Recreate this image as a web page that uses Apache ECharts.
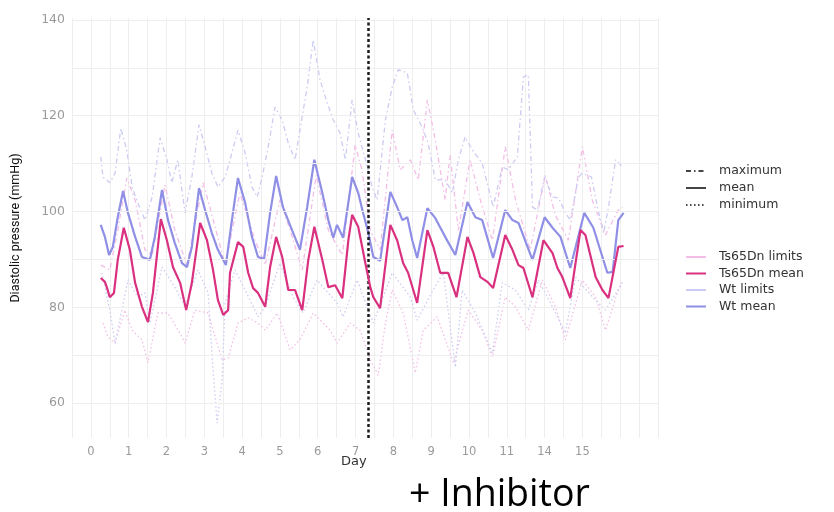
<!DOCTYPE html>
<html>
<head>
<meta charset="utf-8">
<script src="https://cdn.jsdelivr.net/npm/echarts@6/dist/echarts.min.js"></script>
<style>html,body{margin:0;padding:0;background:#fff;}#c{width:834px;height:512px;}</style>
</head>
<body>
<div id="c"></div>
<script>
// ---- tick labels ----
const xTickPositions = [0,1,2,3,4,5,6,7,8,9,10,11,12,13];
const xTickLabels = ['0','1','2','3','4','5','6','7','8','9','10','11','14','15'];
const yTickValues = [60,80,100,120,140];
const yGridValues = [60,70,80,90,100,110,120,130,140];
const inhibitorDay = 7.33;

// ---- Wt mean ----
const wtMeanX = [0.26,0.37,0.48,0.58,0.71,0.85,0.98,1.17,1.35,1.56,1.69,1.88,2.04,2.22,2.41,2.54,2.67,2.86,3.02,3.20,3.36,3.57,3.73,3.89,4.08,4.26,4.42,4.58,4.74,4.90,5.08,5.32,5.53,5.72,5.91,6.12,6.28,6.41,6.51,6.67,6.91,7.07,7.20,7.34,7.47,7.65,7.92,8.10,8.24,8.37,8.50,8.63,8.90,9.11,9.37,9.64,9.96,10.17,10.35,10.64,10.96,11.15,11.31,11.68,12.00,12.21,12.42,12.68,13.05,13.29,13.66,13.80,13.95,14.09];
const wtMeanY = [97.2,94.7,90.9,92.6,98.8,104.3,99.7,94.7,90.5,89.9,94.7,104.5,98.2,93.4,89.2,88.4,92.6,104.9,100.3,95.5,92.0,88.8,98.2,107.0,101.8,94.7,90.5,90.1,99.7,107.4,100.9,96.1,92.0,100.9,110.8,103.9,98.2,94.5,97.2,94.5,107.2,103.9,99.7,95.5,90.5,89.7,104.1,100.9,98.2,98.8,94.0,90.3,100.7,98.6,94.7,90.9,102.0,98.8,98.2,90.3,100.3,98.2,97.6,89.9,98.8,96.6,94.7,88.2,99.7,96.6,87.2,87.4,98.2,99.7];

// ---- Ts65Dn mean ----
const tsMeanX = [0.26,0.37,0.42,0.50,0.61,0.71,0.87,1.03,1.17,1.35,1.51,1.64,1.85,2.01,2.17,2.36,2.52,2.67,2.89,3.07,3.23,3.36,3.50,3.63,3.68,3.89,4.03,4.16,4.29,4.42,4.61,4.74,4.90,5.06,5.22,5.40,5.59,5.75,5.91,6.12,6.28,6.46,6.65,6.81,6.91,7.07,7.26,7.39,7.47,7.65,7.92,8.10,8.26,8.39,8.63,8.90,9.06,9.24,9.45,9.67,9.96,10.12,10.30,10.49,10.64,10.96,11.15,11.31,11.44,11.68,11.97,12.21,12.34,12.47,12.68,12.95,13.08,13.35,13.53,13.69,13.95,14.09];
const tsMeanY = [86.1,85.3,84.2,82.1,83.0,89.9,96.6,92.0,85.1,80.1,76.9,83.0,98.4,94.0,88.4,85.1,79.4,85.1,97.6,94.0,87.8,81.5,78.4,79.4,87.2,93.6,92.6,87.2,84.0,83.0,80.1,88.4,94.7,90.5,83.6,83.6,79.4,89.9,96.8,89.9,84.2,84.6,81.9,94.0,99.3,96.8,89.2,84.2,82.1,79.8,97.2,94.0,89.2,87.2,80.9,96.1,92.6,87.2,87.2,82.1,94.7,91.3,86.3,85.3,84.0,95.1,92.0,88.8,88.2,82.1,94.0,91.3,88.2,86.3,81.9,96.1,95.1,86.3,83.6,81.9,92.6,92.8];

// ---- Wt maximum ----
const wtMaxX = [0.26,0.32,0.50,0.64,0.79,0.95,1.09,1.24,1.43,1.62,1.83,2.01,2.14,2.30,2.49,2.67,2.86,3.02,3.20,3.36,3.55,3.73,3.89,4.08,4.26,4.40,4.53,4.69,4.87,5.06,5.22,5.40,5.53,5.72,5.88,6.06,6.25,6.41,6.59,6.73,6.91,7.07,7.26,7.44,7.57,7.79,7.97,8.13,8.37,8.53,8.76,8.92,9.11,9.37,9.56,9.72,9.90,10.09,10.35,10.64,10.88,11.04,11.28,11.44,11.57,11.68,11.81,12.00,12.21,12.37,12.55,12.68,12.90,13.00,13.24,13.40,13.56,13.69,13.88,14.06];
const wtMaxY = [111.4,107.2,106.0,108.0,117.4,112.8,105.1,101.8,98.2,103.0,115.4,110.8,106.0,110.8,99.7,107.2,118.1,113.5,108.0,105.1,107.2,112.2,117.0,112.2,105.1,103.0,107.2,113.5,121.8,119.1,114.3,110.8,117.0,126.0,135.8,127.5,122.7,119.1,116.4,110.8,123.3,116.4,110.8,105.1,102.4,119.1,126.0,129.6,128.9,121.2,117.6,114.3,106.6,106.6,103.9,110.8,115.6,112.8,110.1,100.9,109.3,108.7,111.4,128.1,128.5,100.9,100.3,107.2,103.0,102.8,99.7,98.2,107.2,108.0,107.2,100.9,95.5,100.9,110.8,109.3];

// ---- Wt minimum ----
const wtMinX = [0.29,0.50,0.64,0.98,1.24,1.43,1.56,1.88,2.22,2.49,2.83,3.10,3.23,3.34,3.47,3.55,3.81,4.21,4.42,4.61,5.00,5.35,5.61,5.98,6.51,6.67,7.04,7.47,7.97,8.45,8.63,9.05,9.32,9.64,9.82,10.17,10.62,10.88,11.23,11.57,11.84,12.29,12.55,12.82,13.27,13.61,14.06];
const wtMinY = [87.2,79.4,72.5,85.7,82.1,83.0,76.7,88.4,84.2,80.1,87.8,83.0,66.9,55.8,64.8,80.9,87.8,81.5,78.0,80.1,89.2,82.1,78.8,85.7,80.9,78.0,85.7,76.7,87.2,82.1,77.3,83.6,87.2,67.5,83.6,78.8,70.4,85.1,83.6,79.4,85.7,78.8,74.6,86.3,82.1,79.4,85.1];

// ---- Ts65Dn maximum ----
const tsMaxX = [0.26,0.50,0.71,0.95,1.17,1.43,1.62,1.96,2.22,2.54,2.97,3.20,3.55,3.94,4.34,4.61,5.00,5.27,5.59,5.96,6.28,6.65,6.99,7.17,7.39,7.65,7.97,8.18,8.45,8.66,8.90,9.11,9.37,9.50,9.72,10.03,10.30,10.62,10.96,11.23,11.62,12.02,12.28,12.63,13.00,13.26,13.61,13.95,14.06];
const tsMaxY = [88.8,87.8,96.1,107.0,102.4,92.0,90.9,105.5,96.1,88.8,106.0,99.3,88.8,103.9,94.0,88.8,102.4,96.1,87.8,107.6,96.1,90.9,113.9,108.7,96.1,92.0,117.0,108.7,110.8,106.6,123.3,114.9,102.4,111.8,96.1,110.8,102.4,94.0,113.5,102.4,92.0,107.6,99.3,94.0,113.5,102.4,95.1,100.3,100.9];

// ---- Ts65Dn minimum ----
const tsMinX = [0.32,0.45,0.64,0.90,1.09,1.35,1.51,1.77,2.04,2.41,2.49,2.75,3.10,3.47,3.63,3.89,4.16,4.42,4.61,4.93,5.27,5.53,5.88,6.33,6.51,6.86,7.12,7.39,7.60,7.79,7.97,8.26,8.58,8.79,9.16,9.59,9.98,10.35,10.62,10.96,11.23,11.57,11.94,12.29,12.55,13.00,13.35,13.61,13.95,14.06];
const tsMinY = [76.7,73.8,72.5,79.4,75.2,73.2,68.4,78.8,78.8,73.8,72.5,79.4,78.8,69.0,69.4,76.7,77.8,76.7,75.2,78.8,71.1,73.2,78.8,75.2,72.5,76.7,75.2,69.0,65.8,76.7,83.6,78.8,66.3,75.2,78.0,68.4,79.4,75.2,69.6,82.1,80.1,75.2,85.7,80.1,73.2,85.7,82.1,75.2,83.6,85.7];

function zip(xs, ys) { return xs.map((x, i) => [x, ys[i]]); }

const C_WT_MEAN = '#8f8fe6';
const C_TS_MEAN = '#d9307f';
const C_WT_LIM = '#cbcbf3';
const C_TS_LIM = '#f3bde6';
const DASHDOT = [5, 3, 1.5, 3];
const DOTTED = [1.5, 2.5];

const chart = echarts.init(document.getElementById('c'), null, {renderer: 'canvas'});

const lineSeries = (name, xs, ys, color, width, type, z) => ({
  name, type: 'line', data: zip(xs, ys), showSymbol: false, symbol: 'none',
  lineStyle: {color, width, type}, itemStyle: {color}, z, silent: true
});
const dummy = (name, color, width, type) => ({
  name, type: 'line', data: [], symbol: 'none',
  lineStyle: {color, width, type}, itemStyle: {color}
});

const legendText = {color: '#333', fontSize: 12.5, fontFamily: 'DejaVu Sans', lineHeight: 14, padding: [0, 0, 0, 8]};

chart.setOption({
  animation: false,
  backgroundColor: '#ffffff',
  grid: {left: 72, right: 176, top: 18, bottom: 74},
  xAxis: {
    type: 'value', min: -0.5, max: 15, interval: 0.5,
    axisLine: {show: false}, axisTick: {show: false},
    splitLine: {show: true, lineStyle: {color: '#eeeeee', width: 1}},
    axisLabel: {
      margin: 8, color: '#9a9a9a', fontSize: 11.5, fontFamily: 'DejaVu Sans',
      formatter: v => { const i = xTickPositions.indexOf(v); return i >= 0 ? xTickLabels[i] : ''; }
    }
  },
  yAxis: {
    type: 'value', min: 52.7, max: 140.4,
    axisLine: {show: false}, axisTick: {show: false, customValues: yTickValues},
    splitLine: {show: false},
    axisLabel: {customValues: yTickValues, margin: 7, color: '#9a9a9a', fontSize: 12.5, fontFamily: 'DejaVu Sans'},
    name: 'Diastolic pressure (mmHg)', nameLocation: 'middle', nameGap: 50,
    nameTextStyle: {color: '#111', fontSize: 12.5, fontFamily: 'Liberation Sans Narrow, Roboto, sans-serif'}
  },
  legend: [
    {
      data: ['maximum', 'mean', 'minimum'], orient: 'vertical', left: 680, top: 159,
      itemWidth: 20, itemHeight: 10, itemGap: 3,
      itemStyle: {opacity: 0},
      textStyle: legendText,
      selectedMode: false
    },
    {
      data: ['Ts65Dn limits', 'Ts65Dn mean', 'Wt limits', 'Wt mean'], orient: 'vertical', left: 680, top: 245,
      itemWidth: 20, itemHeight: 10, itemGap: 2.5,
      itemStyle: {opacity: 0},
      textStyle: legendText,
      selectedMode: false
    }
  ],
  series: [
    {
      name: 'grid', type: 'line', data: [], z: 0, silent: true,
      markLine: {
        silent: true, symbol: 'none', animation: false, label: {show: false},
        lineStyle: {color: '#eeeeee', width: 1, type: 'solid'},
        data: yGridValues.map(v => ({yAxis: v}))
      }
    },
    dummy('maximum', '#444', 1.5, DASHDOT),
    dummy('mean', '#444', 1.5, 'solid'),
    dummy('minimum', '#444', 1.5, DOTTED),
    dummy('Ts65Dn limits', C_TS_LIM, 1.5, 'solid'),
    dummy('Wt limits', C_WT_LIM, 1.5, 'solid'),
    lineSeries('Ts65Dn maximum', tsMaxX, tsMaxY, C_TS_LIM, 1.3, DASHDOT, 2),
    lineSeries('Ts65Dn minimum', tsMinX, tsMinY, C_TS_LIM, 1.3, DOTTED, 2),
    lineSeries('Wt maximum', wtMaxX, wtMaxY, C_WT_LIM, 1.3, DASHDOT, 3),
    lineSeries('Wt minimum', wtMinX, wtMinY, C_WT_LIM, 1.3, DOTTED, 3),
    lineSeries('Wt mean', wtMeanX, wtMeanY, C_WT_MEAN, 2.2, 'solid', 4),
    lineSeries('Ts65Dn mean', tsMeanX, tsMeanY, C_TS_MEAN, 2.2, 'solid', 5),
    {
      name: 'inhibitor', type: 'line', data: [], z: 6, silent: true,
      markLine: {
        silent: true, symbol: 'none', animation: false, label: {show: false},
        lineStyle: {color: '#1a1a1a', width: 2.5, type: [3, 2.5]},
        data: [{xAxis: inhibitorDay}]
      }
    }
  ],
  graphic: [
    {type: 'text', left: 341, top: 455, style: {text: 'Day', fill: '#333', fontSize: 13, fontFamily: 'DejaVu Sans'}},
    {type: 'text', left: 409, top: 476, style: {text: '+ Inhibitor', fill: '#000', fontSize: 37.5, fontFamily: 'Open Sans'}}
  ]
});
</script>
</body>
</html>
